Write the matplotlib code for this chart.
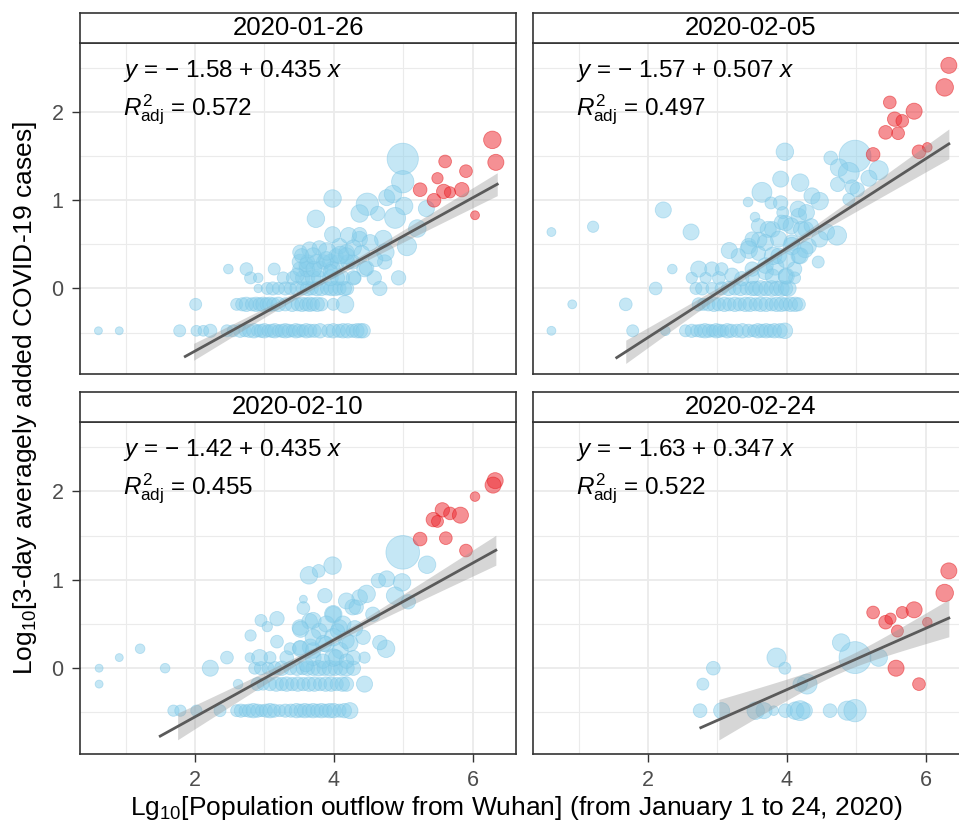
import numpy as np
import matplotlib.pyplot as plt

plt.rcParams['font.family'] = 'Liberation Sans'
plt.rcParams['mathtext.fontset'] = 'custom'
plt.rcParams['mathtext.rm'] = 'Liberation Sans'
plt.rcParams['mathtext.it'] = 'Liberation Sans:italic'

# facet labels and fitted models
dates = ['2020-01-26', '2020-02-05', '2020-02-10', '2020-02-24']
intercepts = [-1.58, -1.57, -1.42, -1.63]
slopes = [0.435, 0.507, 0.435, 0.347]
r2_adj = [0.572, 0.497, 0.455, 0.522]
fit_x_range = [(1.86, 6.35), (1.55, 6.33), (1.50, 6.33), (2.76, 6.33)]
band_x_start = [1.98, 1.68, 1.75, 3.02]
# shape of the 95% confidence band: centre of x, half width at centre, growth
band_xc = [3.8, 3.7, 3.9, 4.75]
band_a = [0.035, 0.035, 0.035, 0.075]
band_b = [0.049, 0.063, 0.068, 0.125]

# points: (lg outflow, lg 3-day mean of new cases, size value)
p1_blue = [
    # y = log10(1/3)
    (0.61, -0.48, 3.3), (0.91, -0.48, 3.3), (1.78, -0.48, 5), (2.02, -0.48, 4.5), (2.12, -0.48, 4.5),
    (2.22, -0.48, 5.5), (2.46, -0.48, 5), (2.55, -0.48, 5), (2.65, -0.48, 5.5), (2.72, -0.48, 5),
    (2.78, -0.48, 5.5), (2.85, -0.48, 6), (2.90, -0.48, 5), (2.95, -0.48, 5.5), (3.00, -0.48, 6),
    (3.05, -0.48, 5), (3.10, -0.48, 5.5), (3.15, -0.48, 6), (3.20, -0.48, 5), (3.25, -0.48, 5.5),
    (3.30, -0.48, 6), (3.35, -0.48, 5.5), (3.40, -0.48, 5), (3.45, -0.48, 6), (3.50, -0.48, 5.5),
    (3.55, -0.48, 5), (3.60, -0.48, 6), (3.66, -0.48, 5.5), (3.72, -0.48, 5.5), (3.80, -0.48, 6),
    (3.92, -0.48, 5.5), (3.99, -0.48, 6), (4.07, -0.48, 5.5), (4.13, -0.48, 6), (4.20, -0.48, 6),
    (4.27, -0.48, 5.5), (4.33, -0.48, 6), (4.38, -0.48, 6), (4.42, -0.48, 6),
    # y = log10(2/3)
    (2.01, -0.18, 5), (2.60, -0.18, 5), (2.68, -0.18, 5.5), (2.74, -0.18, 6), (2.82, -0.18, 5.5),
    (2.88, -0.18, 6), (2.93, -0.18, 5.5), (2.98, -0.18, 6), (3.03, -0.18, 5.5), (3.08, -0.18, 6),
    (3.13, -0.18, 5.5), (3.20, -0.18, 6), (3.30, -0.18, 5.5), (3.40, -0.18, 6), (3.48, -0.18, 5.5),
    (3.54, -0.18, 6), (3.60, -0.18, 5.5), (3.65, -0.18, 6), (3.70, -0.18, 5.5), (3.76, -0.18, 6),
    (3.82, -0.18, 5.5), (3.99, -0.18, 5), (4.16, -0.18, 7.3),
    # y = 0
    (2.91, 0.0, 3.5), (3.04, 0.0, 5), (3.12, 0.0, 5.5), (3.20, 0.0, 5), (3.30, 0.0, 5.5),
    (3.37, 0.0, 5), (3.47, 0.0, 6), (3.55, 0.0, 5.5), (3.62, 0.0, 6), (3.68, 0.0, 5.5),
    (3.75, 0.0, 6), (3.82, 0.0, 6), (3.90, 0.0, 5.5), (3.96, 0.0, 6), (4.02, 0.0, 6),
    (4.08, 0.0, 5.5), (4.15, 0.0, 6), (4.19, 0.0, 5.5), (4.66, 0.0, 6),
    # y = log10(4/3)
    (2.80, 0.12, 5), (2.91, 0.12, 4), (3.27, 0.12, 5), (3.41, 0.12, 5.5), (3.55, 0.12, 6),
    (3.62, 0.12, 6), (3.70, 0.12, 6.5), (3.78, 0.12, 6), (3.95, 0.12, 6.5), (4.05, 0.12, 6),
    (4.12, 0.12, 6), (4.30, 0.12, 5.3), (4.58, 0.12, 6), (4.93, 0.12, 6),
    # y = log10(5/3)
    (2.48, 0.22, 4), (2.74, 0.22, 5.3), (3.14, 0.22, 5), (3.51, 0.22, 6), (3.61, 0.22, 6.5),
    (3.80, 0.22, 6.5), (3.98, 0.22, 6.5), (4.44, 0.22, 6.5),
    # y = log10(2)
    (3.51, 0.30, 6.5), (3.62, 0.30, 6), (3.75, 0.30, 6.5), (3.85, 0.30, 6), (3.95, 0.30, 6.5),
    (4.05, 0.30, 6), (4.20, 0.30, 6), (4.73, 0.30, 6),
    # middle cluster
    (3.51, 0.41, 6), (3.65, 0.44, 6.5), (3.79, 0.46, 6), (3.60, 0.27, 6), (3.89, 0.33, 6.5),
    (4.03, 0.37, 6), (4.18, 0.41, 6.5), (4.27, 0.30, 6), (3.47, 0.15, 6), (3.71, 0.22, 6.5),
    (3.95, 0.19, 6), (4.28, 0.12, 6), (4.47, 0.23, 6), (4.08, 0.48, 6.5), (4.37, 0.56, 6.5),
    # higher
    (4.99, 1.47, 13), (4.99, 1.21, 9.3), (3.98, 1.02, 7.3), (4.48, 0.955, 9.3), (4.76, 1.03, 6.7),
    (4.85, 1.07, 7.3), (5.01, 0.935, 7.3), (4.37, 0.85, 7.3), (4.63, 0.85, 6), (4.88, 0.80, 8.7),
    (5.33, 0.905, 6.7), (5.20, 0.68, 7.3), (5.05, 0.48, 8), (3.74, 0.79, 7.3), (3.98, 0.61, 6.7),
    (4.21, 0.60, 6.7), (4.37, 0.61, 6), (4.71, 0.56, 7.3), (4.52, 0.52, 6.7), (4.74, 0.41, 7.3),
    (4.18, 0.37, 6.7), (3.90, 0.42, 7.3), (4.09, 0.38, 7.3), (4.28, 0.46, 6.7), (3.70, 0.37, 6.7),
    (3.535, 0.37, 6), (4.40, 0.40, 6.5), (4.60, 0.33, 6),
]
p1_red = [
    (6.28, 1.685, 7.3), (6.33, 1.43, 6.7), (5.60, 1.44, 5.3), (5.90, 1.33, 5.3), (5.49, 1.25, 4.7),
    (5.24, 1.12, 5.7), (5.58, 1.10, 6), (5.67, 1.09, 4.7), (5.84, 1.12, 6), (5.44, 1.00, 5.7),
    (6.03, 0.83, 3.7),
]

p2_blue = [
    (0.61, 0.64, 3.7), (1.21, 0.70, 4.7), (0.91, -0.18, 3.7), (1.68, -0.18, 5.3), (2.11, 0.0, 5.3),
    (0.61, -0.48, 3.7), (1.78, -0.48, 5), (2.25, -0.48, 4), (2.22, 0.89, 6.7), (2.62, 0.64, 6.7),
    (2.35, 0.22, 4),
    # y = log10(1/3)
    (2.54, -0.48, 5), (2.63, -0.48, 5.5), (2.70, -0.48, 5), (2.76, -0.48, 5.5), (2.82, -0.48, 6),
    (2.88, -0.48, 5.5), (2.93, -0.48, 5), (2.98, -0.48, 6), (3.03, -0.48, 5.5), (3.08, -0.48, 5),
    (3.14, -0.48, 6), (3.20, -0.48, 5.5), (3.28, -0.48, 5.5), (3.36, -0.48, 6), (3.45, -0.48, 5.5),
    (3.52, -0.48, 5), (3.58, -0.48, 6), (3.64, -0.48, 5.5), (3.70, -0.48, 6), (3.76, -0.48, 5.5),
    (3.82, -0.48, 6), (3.90, -0.48, 6), (3.97, -0.48, 6.5),
    # y = log10(2/3)
    (2.73, -0.18, 5.5), (2.80, -0.18, 5), (2.87, -0.18, 5.5), (2.95, -0.18, 6), (3.02, -0.18, 5.5),
    (3.10, -0.18, 6), (3.17, -0.18, 5.5), (3.25, -0.18, 6), (3.32, -0.18, 5.5), (3.40, -0.18, 6),
    (3.47, -0.18, 6), (3.55, -0.18, 5.5), (3.62, -0.18, 6), (3.70, -0.18, 6), (3.78, -0.18, 5.5),
    (3.85, -0.18, 6), (3.92, -0.18, 6), (3.98, -0.18, 5.5), (4.05, -0.18, 6), (4.12, -0.18, 6),
    (4.17, -0.18, 5.5),
    # y = 0
    (2.69, 0.0, 5), (2.78, 0.0, 5.5), (2.92, 0.0, 5), (3.06, 0.0, 5.5), (3.16, 0.0, 6),
    (3.25, 0.0, 5.5), (3.33, 0.0, 6), (3.42, 0.0, 5.5), (3.50, 0.0, 6), (3.55, 0.0, 6),
    (3.62, 0.0, 6.5), (3.70, 0.0, 6), (3.78, 0.0, 6.5), (3.85, 0.0, 6), (3.92, 0.0, 6.5),
    (3.98, 0.0, 6), (4.02, 0.0, 6.5),
    # y = log10(4/3), log10(5/3)
    (2.63, 0.12, 4.7), (2.83, 0.12, 4.7), (3.02, 0.12, 5.3), (3.21, 0.15, 6), (3.50, 0.14, 6),
    (3.99, 0.14, 6.7), (4.11, 0.12, 5), (2.73, 0.22, 6.7), (2.92, 0.22, 6), (3.06, 0.22, 5.3),
    (3.69, 0.19, 6.7), (3.83, 0.25, 7.3), (4.11, 0.22, 6),
    # middle cluster
    (3.45, 0.48, 6.5), (3.60, 0.55, 6.5), (3.79, 0.67, 6.5), (3.98, 0.74, 6.5), (4.17, 0.82, 6.5),
    (4.27, 0.67, 6.5), (4.07, 0.52, 6.5), (3.88, 0.37, 6.5), (3.69, 0.26, 6.5), (3.50, 0.22, 6),
    (4.17, 0.37, 6.5), (4.31, 0.48, 6.5), (3.79, 0.14, 6), (3.98, 0.14, 6), (3.35, 0.11, 6),
    # higher
    (4.98, 1.50, 13.3), (4.63, 1.48, 5.7), (4.75, 1.37, 7.3), (4.89, 1.31, 8.7), (5.32, 1.34, 8),
    (5.18, 1.25, 6.7), (4.94, 1.15, 6), (4.73, 1.18, 6), (3.97, 1.55, 7.3), (3.91, 1.24, 6.7),
    (4.19, 1.20, 7.3), (3.64, 1.09, 8.3), (4.36, 1.05, 6.7), (4.47, 0.99, 7.3), (4.89, 1.01, 5),
    (5.01, 1.12, 6), (3.77, 0.97, 5), (3.91, 0.97, 6), (3.44, 0.98, 4), (4.16, 0.90, 6.7),
    (4.28, 0.86, 6.7), (3.94, 0.86, 5), (3.54, 0.81, 4), (3.59, 0.71, 6), (3.73, 0.67, 6.7),
    (3.92, 0.75, 6), (4.06, 0.71, 6.7), (4.21, 0.67, 6.7), (4.35, 0.71, 6), (4.57, 0.64, 6.7),
    (4.72, 0.60, 8), (4.47, 0.56, 6.7), (3.50, 0.56, 6), (3.69, 0.52, 6.7), (3.88, 0.56, 6.7),
    (4.07, 0.48, 7.3), (4.26, 0.44, 6.7), (3.45, 0.44, 7.3), (3.59, 0.40, 6), (3.30, 0.37, 6),
    (3.17, 0.43, 6.7), (3.80, 0.37, 7.3), (3.99, 0.33, 7.3), (4.19, 0.37, 6.7), (4.45, 0.30, 5),
]
p2_red = [
    (6.33, 2.53, 6.7), (6.27, 2.28, 7.3), (5.48, 2.11, 5.3), (5.83, 2.01, 6.7), (5.55, 1.92, 6),
    (5.66, 1.90, 5.3), (5.42, 1.77, 5.7), (5.60, 1.76, 5.3), (5.24, 1.52, 5.7), (5.90, 1.55, 5.7),
    (6.02, 1.60, 4),
]

p3_blue = [
    (0.62, 0.0, 3.3), (0.62, -0.18, 3.3), (0.91, 0.12, 3.3), (1.21, 0.22, 4), (1.57, 0.0, 4),
    (2.22, 0.0, 6.7), (2.46, 0.12, 5.3), (2.62, -0.18, 4), (2.79, 0.12, 4),
    # y = log10(1/3)
    (1.69, -0.48, 4.7), (1.79, -0.48, 4.7), (2.02, -0.48, 4.7), (2.36, -0.48, 5), (2.60, -0.48, 5),
    (2.66, -0.48, 5.5), (2.72, -0.48, 5), (2.78, -0.48, 5.5), (2.84, -0.48, 6), (2.90, -0.48, 5.5),
    (2.96, -0.48, 5), (3.02, -0.48, 5.5), (3.08, -0.48, 6), (3.14, -0.48, 5.5), (3.22, -0.48, 5),
    (3.30, -0.48, 5.5), (3.38, -0.48, 5.5), (3.46, -0.48, 6), (3.52, -0.48, 5.5), (3.58, -0.48, 6),
    (3.64, -0.48, 5.5), (3.70, -0.48, 6), (3.76, -0.48, 5.5), (3.82, -0.48, 6), (3.88, -0.48, 5.5),
    (3.94, -0.48, 6), (4.00, -0.48, 6), (4.08, -0.48, 5.5), (4.15, -0.48, 6), (4.23, -0.48, 6.7),
    # y = log10(2/3)
    (2.90, -0.18, 5.5), (2.98, -0.18, 5), (3.08, -0.18, 5.5), (3.17, -0.18, 6), (3.25, -0.18, 5.5),
    (3.32, -0.18, 6), (3.40, -0.18, 5.5), (3.48, -0.18, 6), (3.56, -0.18, 5.5), (3.64, -0.18, 6),
    (3.72, -0.18, 6), (3.80, -0.18, 5.5), (3.88, -0.18, 6), (3.96, -0.18, 6), (4.04, -0.18, 5.5),
    (4.12, -0.18, 6), (4.18, -0.18, 6), (4.44, -0.18, 6.7),
    # y = 0
    (2.86, 0.0, 5), (2.95, 0.0, 5.5), (3.05, 0.0, 5), (3.15, 0.0, 5.5), (3.25, 0.0, 6),
    (3.37, 0.0, 5.5), (3.47, 0.0, 6), (3.55, 0.0, 5.5), (3.62, 0.0, 6), (3.70, 0.0, 6),
    (3.78, 0.0, 6.5), (3.86, 0.0, 6), (3.94, 0.0, 6.5), (4.02, 0.0, 6), (4.10, 0.0, 6),
    (4.18, 0.0, 6.5), (4.28, 0.0, 6),
    # y = log10(4/3), log10(5/3)
    (2.93, 0.12, 6.7), (3.08, 0.12, 5), (3.32, 0.12, 5.7), (3.70, 0.12, 6.7), (3.99, 0.12, 7.3),
    (4.28, 0.12, 6), (4.44, 0.12, 4.7), (3.37, 0.22, 5), (3.52, 0.22, 6.7), (3.66, 0.24, 6.7),
    (4.09, 0.20, 6.7), (4.75, 0.22, 7.3),
    # middle cluster
    (3.51, 0.46, 6.5), (3.65, 0.53, 6.5), (3.79, 0.42, 6.5), (3.99, 0.61, 6.5), (4.08, 0.46, 6.5),
    (4.18, 0.31, 6.5), (3.89, 0.27, 6.5), (3.70, 0.20, 6.5), (3.51, 0.23, 6), (4.27, 0.69, 6.5),
    (4.37, 0.80, 6.5), (4.03, 0.12, 6.5), (4.18, 0.08, 6), (3.84, 0.08, 6), (3.60, 0.04, 6),
    # higher
    (4.99, 1.31, 14), (5.34, 1.17, 7.3), (3.98, 1.16, 7.3), (3.64, 1.05, 7.3), (3.78, 1.10, 5.3),
    (3.87, 0.82, 6), (3.56, 0.78, 3.3), (3.56, 0.68, 5.3), (4.18, 0.76, 6.7), (4.47, 0.84, 7.3),
    (4.64, 0.99, 6), (4.76, 1.01, 6.7), (4.98, 0.97, 7.3), (4.88, 0.82, 7.3), (5.07, 0.75, 6),
    (4.32, 0.69, 6), (4.56, 0.61, 6), (3.99, 0.61, 7.3), (3.70, 0.54, 6.7), (3.89, 0.50, 6.7),
    (4.13, 0.50, 6.7), (3.18, 0.56, 6), (2.95, 0.54, 5), (3.04, 0.47, 4.3), (2.80, 0.37, 4.7),
    (3.18, 0.30, 5.3), (3.52, 0.44, 6.7), (3.70, 0.35, 6.7), (3.99, 0.35, 7.3), (4.23, 0.28, 6.7),
    (4.66, 0.29, 6), (4.42, 0.35, 6), (3.85, 0.28, 6.7), (4.30, 0.45, 6.5), (4.05, 0.42, 6),
]
p3_red = [
    (6.32, 2.12, 6.7), (6.29, 2.07, 6.7), (6.03, 1.94, 4), (5.56, 1.79, 6), (5.67, 1.75, 5.3),
    (5.82, 1.73, 6.7), (5.43, 1.68, 6), (5.49, 1.66, 5), (5.24, 1.46, 5.7), (5.61, 1.47, 5.3),
    (5.90, 1.33, 5.3),
]

p4_blue = [
    (4.98, 0.12, 13.3), (4.78, 0.29, 7.3), (5.32, 0.12, 7.3), (3.85, 0.12, 8), (2.94, 0.0, 5.7),
    (2.79, -0.18, 5), (3.97, 0.0, 5), (4.29, -0.18, 8.3), (4.19, -0.18, 6),
    (2.75, -0.48, 5.7), (3.06, -0.48, 6.7), (3.55, -0.48, 7.3), (3.67, -0.48, 6.7), (3.81, -0.48, 4),
    (3.98, -0.48, 5.7), (4.12, -0.48, 7.3), (4.19, -0.48, 8.3), (4.25, -0.48, 6.7), (4.62, -0.48, 5.7),
    (4.87, -0.48, 8), (4.98, -0.48, 9.3),
]
p4_red = [
    (6.33, 1.10, 6.7), (6.27, 0.85, 7.3), (5.24, 0.63, 5.3), (5.66, 0.63, 5), (5.83, 0.66, 6.7),
    (5.42, 0.52, 5.7), (5.49, 0.56, 4.7), (5.59, 0.42, 5), (6.02, 0.52, 4), (5.57, 0.0, 6.7),
    (5.90, -0.18, 5.3),
]

blue_sets = [p1_blue, p2_blue, p3_blue, p4_blue]
red_sets = [p1_red, p2_red, p3_red, p4_red]

W, H = 959, 823
fig = plt.figure(figsize=(W / 100, H / 100), dpi=100)


def box(x0, y0, x1, y1):
    # pixel box (top-left origin) -> figure fraction rect
    return [x0 / W, 1 - y1 / H, (x1 - x0) / W, (y1 - y0) / H]


def marker_area(size_value):
    # size value -> scatter area in pt^2
    return (2.4 * size_value * 0.72) ** 2


panel_cols = [(80, 516), (533, 969)]
panel_rows = [(43.3, 374), (422.3, 754)]
strip_rows = [(13.3, 43.3), (392.3, 422.3)]

edge = '#333333'
for i in range(4):
    r, c = divmod(i, 2)
    x0, x1 = panel_cols[c]
    ax = fig.add_axes(box(x0, panel_rows[r][0], x1, panel_rows[r][1]))
    sax = fig.add_axes(box(x0, strip_rows[r][0], x1, strip_rows[r][1]))

    ax.set_xlim(0.345, 6.62)
    ax.set_ylim(-0.97, 2.78)
    ax.set_xticks([2, 4, 6])
    ax.set_xticks([1, 3, 5], minor=True)
    ax.set_yticks([0, 1, 2])
    ax.set_yticks([-0.5, 0.5, 1.5, 2.5], minor=True)
    ax.grid(which='major', color='#EBEBEB', linewidth=1.3)
    ax.grid(which='minor', color='#EBEBEB', linewidth=0.8)
    ax.set_axisbelow(True)
    for sp in ax.spines.values():
        sp.set_color(edge)
        sp.set_linewidth(1.2)

    ax.tick_params(which='minor', length=0)
    ax.tick_params(which='major', direction='out', length=5.8, width=1.0, color=edge,
                   labelsize=15.5, labelcolor='#4D4D4D', pad=6)
    if r == 0:
        ax.tick_params(axis='x', which='major', length=0, labelbottom=False)
    if c == 1:
        ax.tick_params(axis='y', which='major', length=0, labelleft=False)

    bx, by, br = np.array(blue_sets[i]).T
    ax.scatter(bx, by, s=marker_area(br), color='#87CEEB', alpha=0.48,
               edgecolors='#7CC4E4', linewidths=0.6, zorder=2)
    rx, ry, rr = np.array(red_sets[i]).T
    ax.scatter(rx, ry, s=marker_area(rr), color='#EC2B33', alpha=0.52,
               edgecolors='#E41A1C', linewidths=0.6, zorder=3)

    # regression line and confidence band
    b0, b1 = intercepts[i], slopes[i]
    xs = np.linspace(fit_x_range[i][0], fit_x_range[i][1], 100)
    xb = np.linspace(band_x_start[i], fit_x_range[i][1], 100)
    hw = np.sqrt(band_a[i] ** 2 + (band_b[i] * (xb - band_xc[i])) ** 2)
    ax.fill_between(xb, b0 + b1 * xb - hw, b0 + b1 * xb + hw, color='#999999',
                    alpha=0.4, linewidth=0, zorder=4)
    ax.plot(xs, b0 + b1 * xs, color='#5A5A5A', linewidth=2.0, zorder=5)

    eq = f'$y$ = \u2212 {abs(b0):.2f} + {b1:.3f} $x$'
    ax.text(0.96, 2.47, eq, fontsize=17.5, ha='left', va='center', zorder=6)
    r2 = f'$R^{{2}}_{{\\mathrm{{adj}}}}$ = {r2_adj[i]:.3f}'
    ax.text(0.96, 2.03, r2, fontsize=17.5, ha='left', va='center', zorder=6)

    sax.set_xticks([])
    sax.set_yticks([])
    sax.set_facecolor('white')
    for sp in sax.spines.values():
        sp.set_color(edge)
        sp.set_linewidth(1.2)
    sax.text(0.5, 0.5, dates[i], transform=sax.transAxes, ha='center', va='center',
             fontsize=18.5)

fig.text(25 / W, 1 - 398 / H, 'Log$_{10}$[3-day averagely added COVID-19 cases]',
         rotation=90, ha='center', va='center', fontsize=19)
fig.text(516 / W, 1 - 808 / H, 'Lg$_{10}$[Population outflow from Wuhan] (from January 1 to 24, 2020)',
         ha='center', va='center', fontsize=19)

fig.savefig('out.png', dpi=100)
